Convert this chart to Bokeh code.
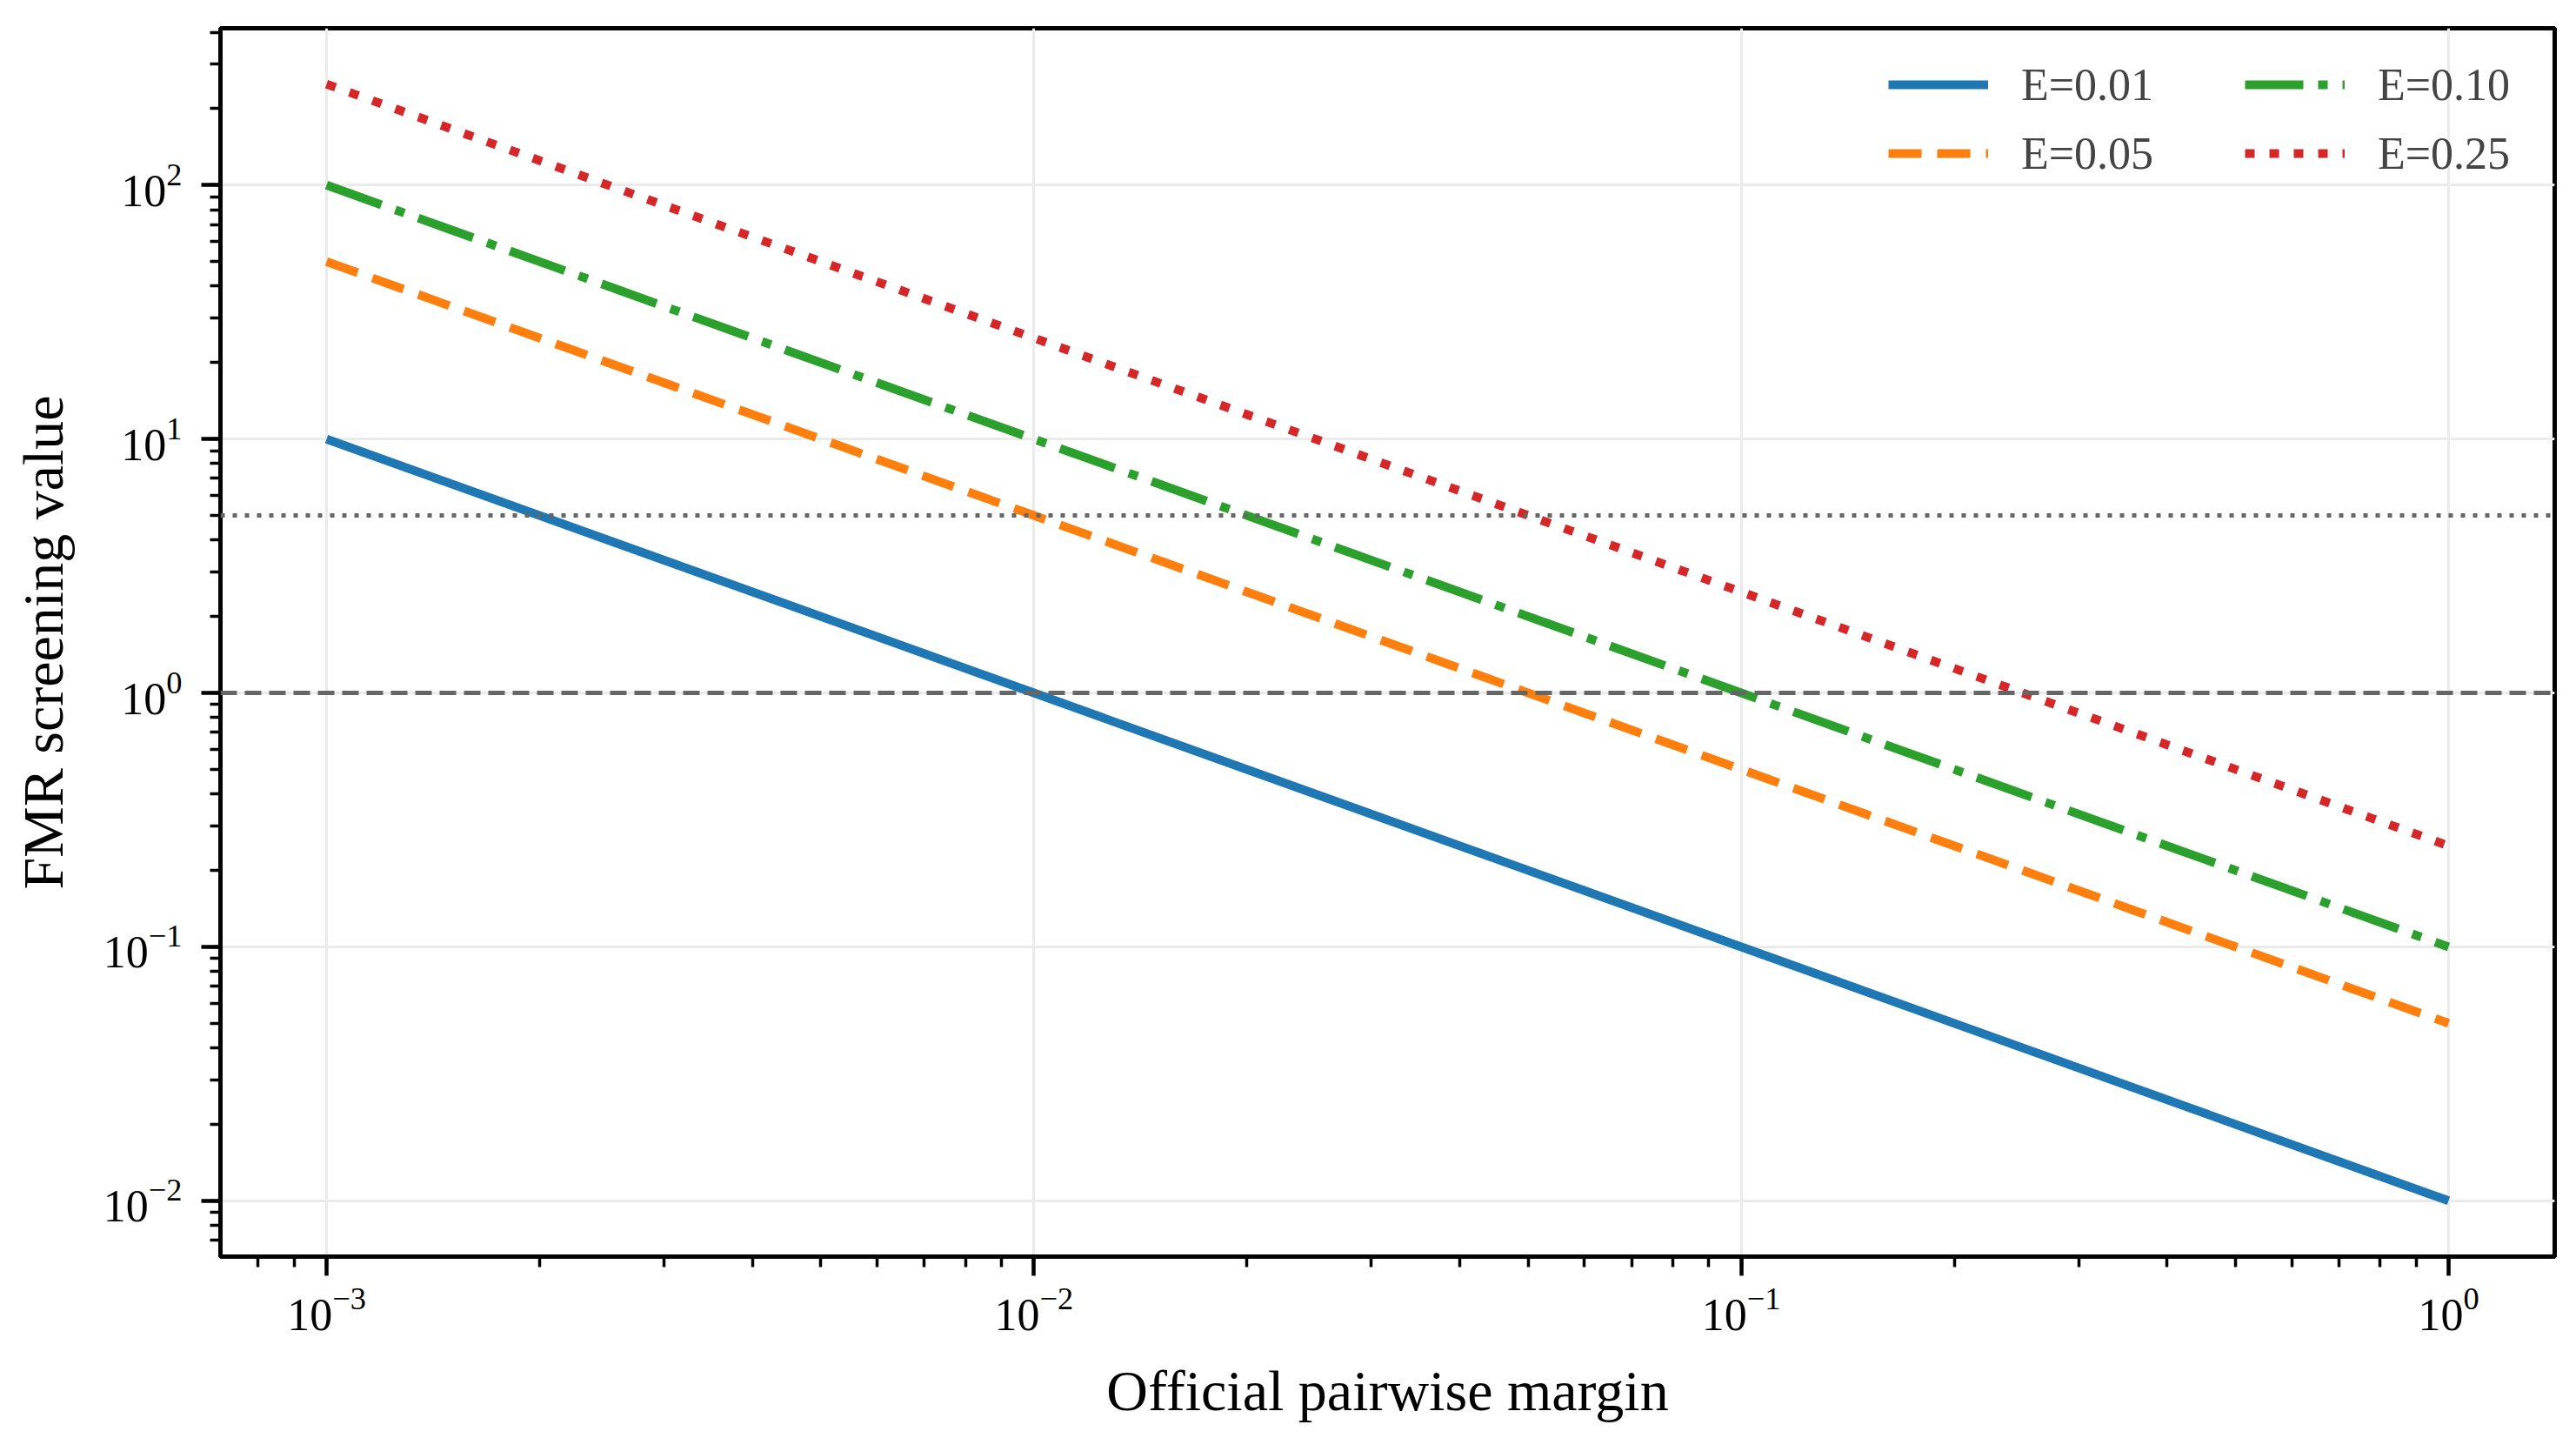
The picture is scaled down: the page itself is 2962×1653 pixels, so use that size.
import math
from bokeh.plotting import figure
from bokeh.models import Range1d, Span, Legend, LegendItem
from bokeh.embed import file_html
from bokeh.resources import INLINE

# ---- data ----
margins = [0.001, 0.01, 0.1, 1.0]
fmr_e001 = [10.0, 1.0, 0.1, 0.01]
fmr_e005 = [50.0, 5.0, 0.5, 0.05]
fmr_e010 = [100.0, 10.0, 1.0, 0.1]
fmr_e025 = [250.0, 25.0, 2.5, 0.25]
labels = ["E=0.01", "E=0.05", "E=0.10", "E=0.25"]
thresholds = [1.0, 5.0]

FONT = "Liberation Serif"

xlo, xhi = math.log10(min(margins)), math.log10(max(margins))
ally = fmr_e001 + fmr_e005 + fmr_e010 + fmr_e025
ylo, yhi = math.log10(min(ally)), math.log10(max(ally))
xm = 0.05 * (xhi - xlo)
ym = 0.05 * (yhi - ylo)

p = figure(width=2946, height=1637, x_axis_type="log", y_axis_type="log",
           x_range=Range1d(10 ** (xlo - xm), 10 ** (xhi + xm)),
           y_range=Range1d(10 ** (ylo - ym), 10 ** (yhi + ym)),
           output_backend="svg", toolbar_location=None,
           min_border_left=253, min_border_right=9, min_border_top=32, min_border_bottom=192)

p.outline_line_color = "black"
p.outline_line_width = 5
p.background_fill_color = "white"

for ax in (p.xaxis[0], p.yaxis[0]):
    ax.axis_line_width = 5
    ax.axis_line_color = "black"
    ax.major_tick_in = 0
    ax.major_tick_out = 22
    ax.minor_tick_in = 0
    ax.minor_tick_out = 12
    ax.major_tick_line_width = 4.5
    ax.minor_tick_line_width = 3.5
    ax.major_tick_line_color = "black"
    ax.minor_tick_line_color = "black"
    ax.major_label_text_font = FONT
    ax.major_label_text_font_size = "52px"
    ax.major_label_text_color = "black"
    ax.axis_label_text_font = FONT
    ax.axis_label_text_font_size = "66px"
    ax.axis_label_text_font_style = "normal"
    ax.axis_label_text_color = "black"

p.xaxis.axis_label = "Official pairwise margin"
p.yaxis.axis_label = "FMR screening value"
p.xaxis.major_label_standoff = 14
p.yaxis.major_label_standoff = 22
p.xaxis.axis_label_standoff = 30
p.yaxis.axis_label_standoff = 30

p.xgrid.grid_line_color = "#ebebeb"
p.ygrid.grid_line_color = "#ebebeb"
p.xgrid.grid_line_width = 3
p.ygrid.grid_line_width = 3

colors = ["#1f77b4", "#ff7f0e", "#2ca02c", "#d62728"]
dashes = ["solid", "38 18", "67 17 11 17", "11 17"]
series = [fmr_e001, fmr_e005, fmr_e010, fmr_e025]
rends = []
for ys, c, d in zip(series, colors, dashes):
    r = p.line(margins, ys, line_color=c, line_width=10, line_dash=d, line_cap="butt")
    rends.append(r)

p.add_layout(Span(location=thresholds[0], dimension="width", line_color="#666666",
                  line_width=5, line_dash="19 9"))
p.add_layout(Span(location=thresholds[1], dimension="width", line_color="#666666",
                  line_width=5, line_dash="5 9"))

def mk_legend(items, loc):
    lg = Legend(items=items, location=loc, orientation="vertical",
                label_text_font=FONT, label_text_font_size="52px",
                glyph_width=115, glyph_height=70, label_height=70,
                label_standoff=38, spacing=9, padding=0, margin=0,
                border_line_alpha=0, background_fill_alpha=0)
    return lg

leg1 = mk_legend([LegendItem(label=labels[0], renderers=[rends[0]]),
                  LegendItem(label=labels[1], renderers=[rends[1]])], (1918, 1233))
leg2 = mk_legend([LegendItem(label=labels[2], renderers=[rends[2]]),
                  LegendItem(label=labels[3], renderers=[rends[3]])], (2328, 1233))
p.add_layout(leg1)
p.add_layout(leg2)

open("out.html", "w").write(file_html(p, INLINE))
